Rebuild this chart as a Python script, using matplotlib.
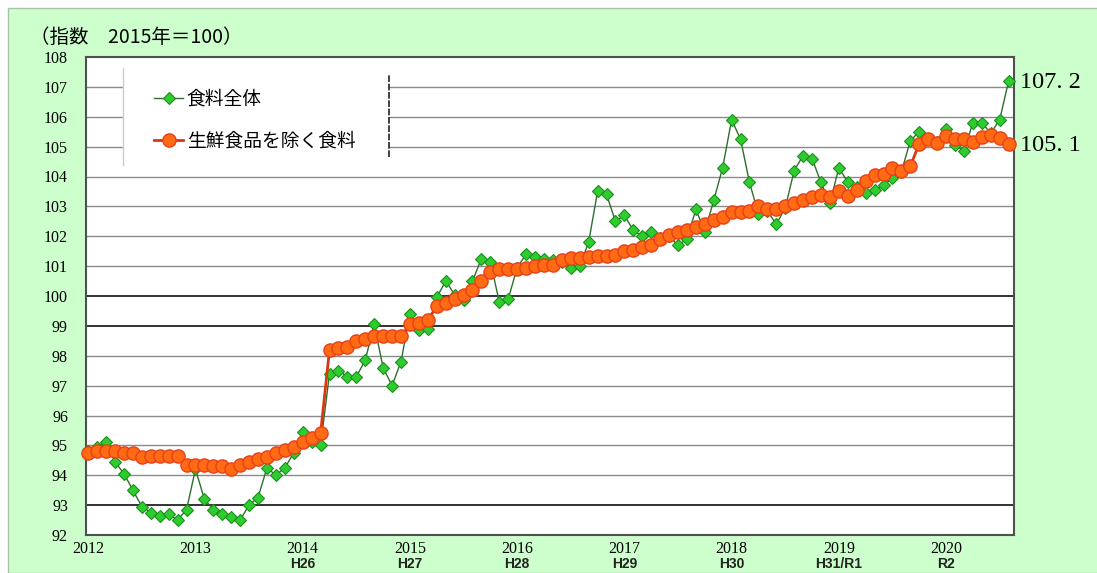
import numpy as np
import matplotlib.pyplot as plt
from matplotlib.patches import Rectangle
from matplotlib.lines import Line2D

# monthly index, Jan 2012 - Aug 2020 (2015=100)
food_all = [
    94.8, 94.95, 95.1, 94.45, 94.05, 93.5, 92.95, 92.75, 92.65, 92.7, 92.5, 92.85,       # 2012
    94.2, 93.2, 92.85, 92.7, 92.6, 92.5, 93.0, 93.25, 94.25, 94.0, 94.25, 94.75,         # 2013
    95.45, 95.1, 95.0, 97.4, 97.5, 97.3, 97.3, 97.85, 99.05, 97.6, 97.0, 97.8,           # 2014
    99.4, 98.85, 98.9, 99.95, 100.5, 100.05, 99.85, 100.5, 101.25, 101.15, 99.8, 99.9,   # 2015
    100.95, 101.4, 101.3, 101.25, 101.2, 101.15, 100.95, 101.0, 101.8, 103.5, 103.4, 102.5,  # 2016
    102.7, 102.2, 102.0, 102.15, 101.95, 102.0, 101.7, 101.9, 102.9, 102.15, 103.2, 104.3,   # 2017
    105.9, 105.25, 103.8, 102.75, 102.85, 102.4, 102.95, 104.2, 104.7, 104.6, 103.8, 103.1,  # 2018
    104.3, 103.8, 103.65, 103.45, 103.55, 103.7, 103.95, 104.15, 105.2, 105.5, 105.25, 105.15,  # 2019
    105.6, 105.05, 104.85, 105.8, 105.8, 105.45, 105.9, 107.2,                          # 2020
]
food_ex_fresh = [
    94.75, 94.8, 94.8, 94.8, 94.75, 94.75, 94.6, 94.65, 94.65, 94.65, 94.65, 94.35,
    94.35, 94.35, 94.3, 94.3, 94.2, 94.35, 94.45, 94.55, 94.6, 94.75, 94.85, 94.95,
    95.1, 95.25, 95.4, 98.2, 98.25, 98.3, 98.5, 98.55, 98.65, 98.65, 98.65, 98.65,
    99.05, 99.1, 99.2, 99.65, 99.75, 99.9, 100.05, 100.2, 100.5, 100.8, 100.9, 100.9,
    100.9, 100.95, 101.0, 101.05, 101.05, 101.2, 101.27, 101.27, 101.32, 101.35, 101.35, 101.38,
    101.5, 101.55, 101.65, 101.72, 101.9, 102.05, 102.15, 102.2, 102.3, 102.4, 102.55, 102.65,
    102.8, 102.8, 102.85, 103.0, 102.9, 102.9, 103.0, 103.1, 103.2, 103.33, 103.38, 103.33,
    103.5, 103.35, 103.55, 103.85, 104.05, 104.1, 104.28, 104.17, 104.35, 105.1, 105.25, 105.13,
    105.36, 105.25, 105.25, 105.17, 105.33, 105.4, 105.3, 105.1,
]
years = ['2012', '2013', '2014', '2015', '2016', '2017', '2018', '2019', '2020']
eras = ['', '', 'H26', 'H27', 'H28', 'H29', 'H30', 'H31/R1', 'R2']
y_ticks = list(range(92, 109))

W, H = 1097, 573
fig = plt.figure(figsize=(W / 100, H / 100), dpi=100, facecolor='white')
fig.patches.append(Rectangle((8 / W, 0), 1, 1 - 8 / H, transform=fig.transFigure,
                             facecolor='#ccffcc', edgecolor='#a8c4a8', lw=1, zorder=-10))

ax = fig.add_axes([86 / W, 1 - 535 / H, 928 / W, 478 / H])
ax.set_facecolor('white')

x = np.arange(len(food_all))
ax.plot(x, food_all, color='#2f6e2f', lw=1, marker='D', ms=6.5, mfc='#2ecc2e',
        mec='#1a8f1a', mew=0.8, zorder=3, clip_on=False, label='食料全体')
ax.plot(x, food_ex_fresh, color='#d43a10', lw=2, marker='o', ms=9.5, mfc='#ff6a13',
        mec='#e8401a', mew=1, zorder=4, clip_on=False, label='生鮮食品を除く食料')

ax.set_ylim(92, 108)
ax.set_xlim(-0.25, 103.6)
for v in y_ticks[1:-1]:
    dark = v in (93, 99, 100)
    ax.axhline(v, color='#222222' if dark else '#8a8a8a', lw=1.3 if dark else 1, zorder=1)

ax.set_yticks(y_ticks)
ax.set_yticklabels([str(v) for v in y_ticks], family='Liberation Serif', fontsize=11.5)
ax.set_xticks(np.arange(len(years)) * 12)
ax.set_xticklabels(years, family='Liberation Serif', fontsize=11.5)
ax.tick_params(axis='both', length=0)
ax.tick_params(axis='y', pad=13)
ax.tick_params(axis='x', pad=4)
for i, e in enumerate(eras):
    if e:
        ax.annotate(e, xy=(i * 12, 0), xycoords=('data', 'axes fraction'),
                    xytext=(0, -21), textcoords='offset points', ha='center', va='center',
                    fontsize=10, family='Liberation Sans', fontweight='bold', color='#222222')
for s in ax.spines.values():
    s.set_color('#505050')
    s.set_linewidth(1.5)

# legend box
ax.add_patch(Rectangle((0.04, 0.774), 0.2865, 0.203, transform=ax.transAxes,
                       facecolor='white', edgecolor='none', zorder=2))
ax.add_line(Line2D([0.04, 0.04], [0.774, 0.977], transform=ax.transAxes,
                   color='#cccccc', lw=1, zorder=2))
ax.add_line(Line2D([0.3265, 0.3265], [0.79, 0.965], transform=ax.transAxes,
                   color='#222222', lw=1.2, ls=(0, (4, 1)), zorder=2))
leg = ax.legend(loc='upper left', bbox_to_anchor=(0.0733, 0.935), frameon=False,
                borderpad=0, borderaxespad=0, handlelength=1.55, handletextpad=0.2,
                labelspacing=1.14, prop={'family': 'Noto Sans CJK JP', 'size': 13.5})
leg.set_zorder(5)

ax.annotate('107. 2', xy=(x[-1], food_all[-1]), xytext=(8, -1), textcoords='offset points',
            va='center', ha='left', fontsize=17.5, family='Liberation Serif')
ax.annotate('105. 1', xy=(x[-1], food_ex_fresh[-1]), xytext=(8, -1), textcoords='offset points',
            va='center', ha='left', fontsize=17.5, family='Liberation Serif')

fig.text(30 / W, 1 - 37 / H, '（指数　2015年＝100）', fontsize=14,
         family='Noto Sans CJK JP', va='center', ha='left')

fig.savefig('out.png', dpi=100, facecolor=fig.get_facecolor())
